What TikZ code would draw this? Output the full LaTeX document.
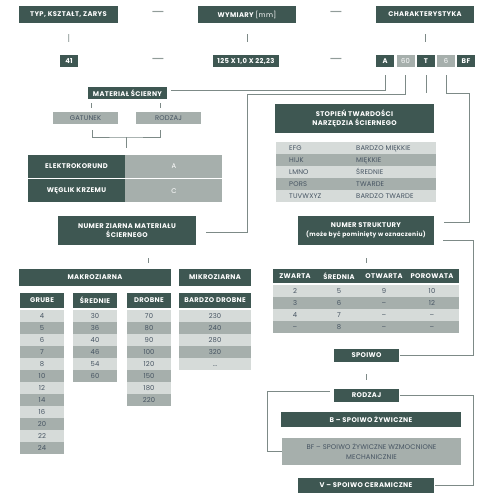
\documentclass[tikz,border=0pt]{standalone}
\usepackage{fontspec}
\setmainfont{Poppins}
\newfontfamily\headfont{Poppins}[LetterSpace=5]
\newfontfamily\cellfont{Poppins}[LetterSpace=2]
\usetikzlibrary{positioning,calc}

\definecolor{boxdark}{RGB}{62,87,82}
\definecolor{celllight}{RGB}{214,219,217}
\definecolor{cellmid}{RGB}{166,175,172}
\definecolor{celltext}{RGB}{70,84,98}
\definecolor{linegray}{RGB}{125,138,135}

\begin{document}
\begin{tikzpicture}[
        x=1pt, y=-1pt,
        head/.style={rectangle, fill=boxdark, text=white, inner sep=0pt, align=center, font=\headfont\bfseries\fontsize{6.8}{9.5}\selectfont},
        cell/.style={rectangle, inner sep=0pt, align=center, text=celltext, font=\cellfont\fontsize{6.8}{10}\selectfont},
        rowtxt/.style={cell, text height=4.8pt, text depth=0pt},
        codebox/.style={minimum width=18pt, minimum height=12.5pt},
        link/.style={draw=linegray, line width=0.9pt},
        dashsep/.style={text=linegray!85, inner sep=0pt, font=\fontsize{15}{15}\selectfont}
    ]
        \useasboundingbox (0,0) rectangle (500,500);

        % Header row
        \node[head, minimum width=99pt, minimum height=17pt] (typ) at (68.5, 14.5) {TYP, KSZTAŁT, ZARYS};
        \node[dashsep] (dash1) at (158, 14.5) {—};
        \node[head, minimum width=98pt, minimum height=17pt] (wym) at (247, 14.5) {WYMIARY {\mdseries[mm]}};
        \node[dashsep] (dash2) at (336, 14.5) {—};
        \node[head, minimum width=98pt, minimum height=17pt] (char) at (425, 14.5) {CHARAKTERYSTYKA};

        % Designation row
        \node[head, minimum width=18pt, minimum height=12pt] (n41) at (69, 61) {41};
        \node[dashsep] (dash3) at (158, 61) {—};
        \node[head, minimum width=66pt, minimum height=12pt] (dim) at (246, 61) {125 X 1,0 X 22,23};
        \node[dashsep] (dash4) at (336, 61) {—};
        \node[head, codebox] (cA) at (385, 61) {A};
        \node[cell, codebox, fill=cellmid, text=white] (c60) at (405.5, 61) {60};
        \node[head, codebox] (cT) at (426, 61) {T};
        \node[cell, codebox, fill=cellmid, text=white] (c6) at (446, 61) {6};
        \node[head, codebox] (cBF) at (466, 61) {BF};

        \draw[link, shorten <=11pt, shorten >=13pt] (typ) -- (n41);
        \draw[link, shorten <=11pt, shorten >=13pt] (wym.south) -- (wym.south |- dim.north);
        \draw[link, shorten <=11pt, shorten >=13pt] (char.south) -- (char.south |- cT.north);

        % Abrasive material
        \node[head, minimum width=79pt, minimum height=12pt] (mat) at (127.5, 93) {MATERIAŁ ŚCIERNY};
        \node[rowtxt, fill=cellmid, minimum width=65pt, minimum height=12pt] (gat) at (85.5, 118) {GATUNEK};
        \node[rowtxt, fill=cellmid, minimum width=65pt, minimum height=12pt] (rodz) at (168.5, 118) {RODZAJ};
        \draw[link, shorten <=4pt, shorten >=4pt] ([xshift=4pt]mat.south west) -- ([xshift=4pt]mat.south west |- gat.north);
        \draw[link, shorten <=4pt, shorten >=4pt] ([xshift=-7pt]mat.south east) -- ([xshift=-7pt]mat.south east |- rodz.north);
        \coordinate (brk) at (126, 137);
        \draw[link] (92, 130) |- (brk) -| (160, 130);

        \node[head, minimum width=97pt, minimum height=23pt] (ek1) at (76.5, 166.5) {ELEKTROKORUND};
        \node[rowtxt, fill=cellmid, text=white, minimum width=97pt, minimum height=23pt, right=0pt of ek1] (ek2) {A};
        \node[head, minimum width=97pt, minimum height=23pt, below=1pt of ek1] (wk1) {WĘGLIK KRZEMU};
        \node[rowtxt, fill=cellmid, text=white, minimum width=97pt, minimum height=23pt, right=0pt of wk1] (wk2) {C};
        \draw[link, shorten >=7pt] (brk) -- (brk |- ek1.north);

        % Grain number
        \node[head, minimum width=138pt, minimum height=29pt] (ziarno) at (127, 230.5) {NUMER ZIARNA MATERIAŁU\\ŚCIERNEGO};
        \node[head, minimum width=152pt, minimum height=17pt] (makro) at (95, 277.5) {MAKROZIARNA};
        \node[head, minimum width=72pt, minimum height=17pt] (mikro) at (215, 277.5) {MIKROZIARNA};
        \draw[link, shorten <=13pt, shorten >=6pt] ([xshift=21pt]ziarno.south) -- ([xshift=21pt]ziarno.south |- makro.north);

        \node[head, minimum width=44pt, minimum height=15pt] (grube) at (42, 300.5) {GRUBE};
        \node[head, minimum width=44pt, minimum height=15pt] (sred) at (95, 300.5) {ŚREDNIE};
        \node[head, minimum width=44pt, minimum height=15pt] (drob) at (149, 300.5) {DROBNE};
        \node[head, minimum width=72pt, minimum height=15pt] (bdrob) at (215, 300.5) {BARDZO DROBNE};
        \foreach \v [count=\i] in {4,5,6,7,8,10,12,14,16,20,22,24} {
            \ifodd\i\relax \def\rowfill{celllight}\else \def\rowfill{cellmid}\fi
            \node[rowtxt, fill=\rowfill, minimum width=44pt, minimum height=12pt] (grube\i) at (42, 304+12*\i) {\v};
        }
        \foreach \v [count=\i] in {30,36,40,46,54,60} {
            \ifodd\i\relax \def\rowfill{celllight}\else \def\rowfill{cellmid}\fi
            \node[rowtxt, fill=\rowfill, minimum width=44pt, minimum height=12pt] (sred\i) at (95, 304+12*\i) {\v};
        }
        \foreach \v [count=\i] in {70,80,90,100,120,150,180,220} {
            \ifodd\i\relax \def\rowfill{celllight}\else \def\rowfill{cellmid}\fi
            \node[rowtxt, fill=\rowfill, minimum width=44pt, minimum height=12pt] (drob\i) at (149, 304+12*\i) {\v};
        }
        \foreach \v [count=\i] in {230,240,280,320,\dots} {
            \ifodd\i\relax \def\rowfill{celllight}\else \def\rowfill{cellmid}\fi
            \node[rowtxt, fill=\rowfill, minimum width=72pt, minimum height=12pt] (bdrob\i) at (215, 304+12*\i) {\v};
        }

        % Hardness grade
        \node[head, minimum width=159pt, minimum height=29pt] (stop) at (354.5, 118.5) {STOPIEŃ TWARDOŚCI\\NARZĘDZIA ŚCIERNEGO};
        \draw[link, shorten <=8pt, shorten >=11pt] (cT.south) -- (cT.south |- stop.north);
        \foreach \code/\name [count=\i] in {EFG/BARDZO MIĘKKIE, HIJK/MIĘKKIE, LMNO/ŚREDNIE, PORS/TWARDE, TUVWXYZ/BARDZO TWARDE} {
            \ifodd\i\relax \def\rowfill{celllight}\else \def\rowfill{cellmid}\fi
            \node[cell, fill=\rowfill, minimum width=160pt, minimum height=12pt] (hard\i) at (356, 136+12*\i) {};
            \node[rowtxt, anchor=west] (hardcode\i) at (289, 136+12*\i) {\code};
            \node[rowtxt, anchor=west] (hardname\i) at (356, 136+12*\i) {\name};
        }

        % Structure number
        \node[head, minimum width=136pt, minimum height=29pt] (strukt) at (366, 230.5) {NUMER STRUKTURY\\{\fontsize{6}{9}\selectfont(może być pominięty w oznaczeniu)}};
        \node[head, minimum width=186pt, minimum height=14pt] (porhead) at (366, 276) {};
        \node[head] (zwarta) at (295, 276) {ZWARTA};
        \node[head] (srednia) at (339, 276) {ŚREDNIA};
        \node[head] (otwarta) at (384, 276) {OTWARTA};
        \node[head] (porowata) at (432, 276) {POROWATA};
        \draw[link, shorten <=13pt, shorten >=6pt] (strukt.south) -- (strukt.south |- porhead.north);
        \foreach \a/\b/\c/\d [count=\i] in {2/5/9/10, 3/6/–/12, 4/7/–/–, –/8/–/–} {
            \ifodd\i\relax \def\rowfill{celllight}\else \def\rowfill{cellmid}\fi
            \node[cell, fill=\rowfill, minimum width=186pt, minimum height=12pt] (por\i) at (366, 279+12*\i) {};
            \node[rowtxt] (por\i a) at (295, 279+12*\i) {\a};
            \node[rowtxt] (por\i b) at (339, 279+12*\i) {\b};
            \node[rowtxt] (por\i c) at (384, 279+12*\i) {\c};
            \node[rowtxt] (por\i d) at (432, 279+12*\i) {\d};
        }

        % Bond
        \node[head, minimum width=65pt, minimum height=13pt] (spoiwo) at (366.5, 355.5) {SPOIWO};
        \node[head, minimum width=65pt, minimum height=13pt] (rodzaj) at (366.5, 395.5) {RODZAJ};
        \draw[link, shorten <=12pt, shorten >=9pt] (spoiwo) -- (rodzaj);
        \node[head, minimum width=180pt, minimum height=15pt] (bspoiwo) at (371, 419.5) {B – SPOIWO ŻYWICZNE};
        \node[cell, fill=cellmid, minimum width=179pt, minimum height=27pt] (bfspoiwo) at (371.5, 451.5) {BF – SPOIWO ŻYWICZNE WZMOCNIONE\\MECHANICZNIE};
        \node[head, minimum width=136pt, minimum height=15pt] (vspoiwo) at (366, 485.5) {V – SPOIWO CERAMICZNE};

        % Code links
        \draw[link] ([yshift=-8pt]cA.south) |- ([xshift=4pt, yshift=3pt]mat.east);
        \draw[link] ([yshift=-8pt]c60.south) |- (247, 94) |- ([xshift=10pt, yshift=-1.5pt]ziarno.east);
        \draw[link] ([yshift=-8pt]c6.south) |- (469, 93) |- ([xshift=10pt, yshift=8.5pt]strukt.east);
        \draw[link] ([xshift=9pt, yshift=-9.5pt]strukt.east) -| ([xshift=74.5pt]spoiwo.east) -- ([xshift=1pt]spoiwo.east);
        \draw[link] ([xshift=-4pt, yshift=4.5pt]rodzaj.west) -| ([xshift=-14pt]bfspoiwo.west) -- (bfspoiwo.west);
        \draw[link] ([xshift=1pt]rodzaj.east) -| ([xshift=39pt]vspoiwo.east) -- ([xshift=1pt]vspoiwo.east);
    \end{tikzpicture}
\end{document}
